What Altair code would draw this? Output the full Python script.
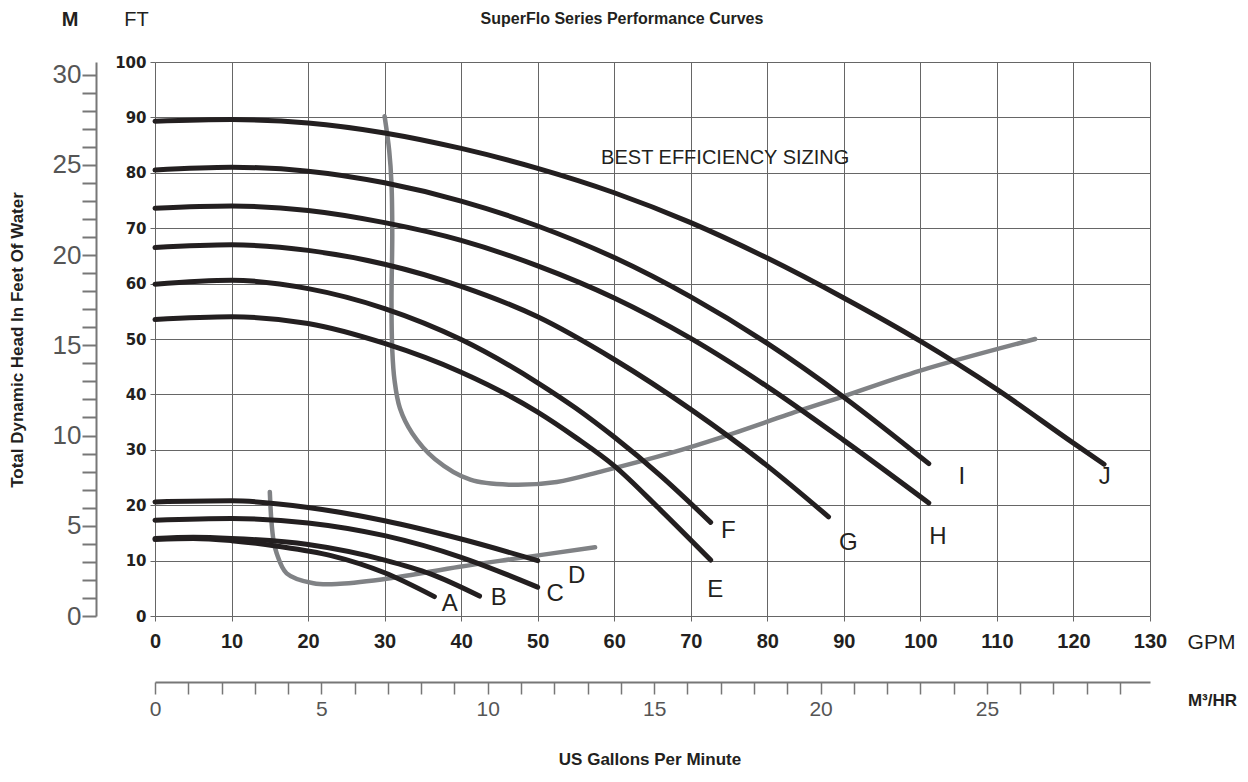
import altair as alt
import pandas as pd

# ---------------- data ----------------
curve_names = ["A", "B", "C", "D", "E", "F", "G", "H", "I", "J"]

gpm_A = [0, 5, 10, 16, 23, 30, 36.5]
ft_A = [13.8, 14.0, 13.6, 12.6, 10.9, 7.8, 3.5]
gpm_B = [0, 5, 10, 20, 30, 36, 42.4]
ft_B = [14.0, 14.2, 14.0, 12.9, 10.1, 7.6, 3.6]
gpm_C = [0, 10, 20, 30, 40, 50]
ft_C = [17.3, 17.6, 16.8, 14.5, 10.6, 5.2]
gpm_D = [0, 10, 20, 30, 40, 50]
ft_D = [20.6, 20.8, 19.6, 17.2, 13.9, 10.0]
gpm_E = [0, 10, 20, 30, 40, 50, 55, 60, 66, 72.6]
ft_E = [53.5, 54.0, 52.8, 49.2, 44.0, 36.8, 32.2, 27.1, 19.2, 10.1]
gpm_F = [0, 10, 20, 30, 40, 50, 55, 60, 66, 72.6]
ft_F = [59.9, 60.6, 59.1, 55.5, 49.9, 42.1, 37.5, 32.3, 25.4, 16.9]
gpm_G = [0, 10, 20, 30, 40, 50, 60, 70, 80, 88]
ft_G = [66.5, 67.0, 66.0, 63.5, 59.5, 54.0, 46.3, 37.3, 27.1, 17.9]
gpm_H = [0, 10, 20, 30, 40, 50, 60, 70, 80, 90, 101.1]
ft_H = [73.6, 74.0, 73.2, 71.0, 67.8, 63.2, 57.4, 50.1, 41.4, 31.7, 20.4]
gpm_I = [0, 10, 20, 30, 40, 50, 60, 70, 80, 90, 101.1]
ft_I = [80.5, 81.0, 80.3, 78.2, 74.9, 70.4, 64.7, 57.6, 49.2, 39.5, 27.5]
gpm_J = [0, 10, 20, 30, 40, 50, 60, 70, 80, 90, 100, 110, 120, 124.0]
ft_J = [89.3, 89.6, 89.0, 87.2, 84.4, 80.8, 76.4, 71.0, 64.6, 57.4, 49.6, 40.9, 31.2, 27.4]

# best efficiency sizing boundaries
bep_big_gpm = [30.0, 30.6, 30.9, 31.0, 30.9, 31.0, 31.3, 32.0, 33.6, 36.6, 41.2, 46.4,
               52.5, 58.6, 67.3, 74.1, 84.3, 89.2, 100.0, 115.0]
bep_big_ft = [90.2, 84.0, 78.0, 69.0, 57.0, 48.0, 42.5, 37.5, 33.0, 28.3, 24.6, 23.7,
              24.2, 26.2, 29.4, 32.3, 37.1, 39.3, 44.3, 50.0]
bep_small_gpm = [15.0, 15.2, 15.5, 15.9, 17.2, 20.7, 24.2, 30.7, 39.8, 47.3, 57.5]
bep_small_ft = [22.4, 17.3, 13.5, 11.3, 7.7, 5.9, 5.8, 6.8, 8.9, 10.4, 12.4]

# curve letter labels
label_gpm = [38.5, 44.9, 52.3, 55.1, 73.2, 74.9, 90.6, 102.3, 105.4, 124.1]
label_ft = [2.1, 3.2, 3.9, 7.2, 4.7, 15.4, 13.2, 14.2, 25.1, 25.1]

gpm_ticks = list(range(0, 131, 10))
ft_ticks = list(range(0, 101, 10))
m_ticks = list(range(0, 31))
m3_ticks = list(range(0, 30))

# ---------------- tables ----------------
series = {
    "A": (gpm_A, ft_A), "B": (gpm_B, ft_B), "C": (gpm_C, ft_C), "D": (gpm_D, ft_D),
    "E": (gpm_E, ft_E), "F": (gpm_F, ft_F), "G": (gpm_G, ft_G), "H": (gpm_H, ft_H),
    "I": (gpm_I, ft_I), "J": (gpm_J, ft_J),
}
rows = []
for name in curve_names:
    g, f = series[name]
    for i, (a, b) in enumerate(zip(g, f)):
        rows.append({"curve": name, "i": i, "gpm": a, "ft": b})
curves_df = pd.DataFrame(rows)

bep_rows = []
for i, (a, b) in enumerate(zip(bep_big_gpm, bep_big_ft)):
    bep_rows.append({"zone": "big", "i": i, "gpm": a, "ft": b})
for i, (a, b) in enumerate(zip(bep_small_gpm, bep_small_ft)):
    bep_rows.append({"zone": "small", "i": i, "gpm": a, "ft": b})
bep_df = pd.DataFrame(bep_rows)

labels_df = pd.DataFrame({"name": curve_names, "gpm": label_gpm, "ft": label_ft})

BOLD_NARROW = "Liberation Sans Narrow, Liberation Sans, Arial, sans-serif"
SANS = "Liberation Sans, Arial, sans-serif"
INK = "#231f20"
GRID = "#666666"

x_scale = alt.Scale(domain=[0, 130], nice=False, zero=True)
y_scale = alt.Scale(domain=[0, 100], nice=False, zero=True)

gpm_axis = alt.Axis(
    values=gpm_ticks, grid=True, gridColor=GRID, gridWidth=1, domain=False,
    ticks=True, tickSize=5, tickColor=GRID, labelFlush=False,
    labelFont=BOLD_NARROW, labelFontSize=20, labelFontWeight="bold", labelColor=INK,
    labelPadding=10, title="GPM", titleFont=SANS, titleFontSize=21,
    titleFontWeight="normal", titleColor=INK, titleX=1056, titleY=26,
    titleAlign="center", titleBaseline="middle",
)
ft_axis = alt.Axis(
    values=ft_ticks, grid=True, gridColor=GRID, gridWidth=1, domain=False,
    ticks=True, tickSize=5, tickColor=GRID,
    labelFont="DejaVu Sans, sans-serif", labelFontSize=15, labelFontWeight="bold",
    labelColor=INK, labelPadding=4, title="FT", titleFont=SANS, titleFontSize=20,
    titleFontWeight="normal", titleColor=INK, titleAngle=0, titleX=-19, titleY=-43,
    titleAlign="center", titleBaseline="middle",
)

bep = alt.Chart(bep_df).mark_line(
    color="#808285", strokeWidth=4.5, strokeCap="round", strokeJoin="round",
    interpolate="catmull-rom"
).encode(
    x=alt.X("gpm:Q", scale=x_scale, axis=gpm_axis),
    y=alt.Y("ft:Q", scale=y_scale, axis=ft_axis),
    detail="zone:N",
    order="i:Q",
)

pumps = alt.Chart(curves_df).mark_line(
    color=INK, strokeWidth=5, strokeCap="round", strokeJoin="round",
    interpolate="monotone"
).encode(
    x=alt.X("gpm:Q", scale=x_scale),
    y=alt.Y("ft:Q", scale=y_scale),
    detail="curve:N",
    order="i:Q",
)

letters = alt.Chart(labels_df).mark_text(
    font=SANS, fontSize=24, color=INK, align="center", baseline="middle"
).encode(
    x=alt.X("gpm:Q", scale=x_scale),
    y=alt.Y("ft:Q", scale=y_scale),
    text="name:N",
)

bes_df = pd.DataFrame({"t": ["BEST EFFICIENCY SIZING"], "gpm": [74.5], "ft": [82.7]})
bes = alt.Chart(bes_df).mark_text(
    font=SANS, fontSize=20, color=INK, align="center", baseline="middle"
).encode(
    x=alt.X("gpm:Q", scale=x_scale),
    y=alt.Y("ft:Q", scale=y_scale),
    text="t:N",
)

def note(text, x, y, size, weight="bold", angle=0, font=SANS):
    return alt.Chart(pd.DataFrame({"t": [text]})).mark_text(
        font=font, fontSize=size, fontWeight=weight, color=INK,
        align="center", baseline="middle", angle=angle,
    ).encode(text="t:N", x=alt.value(x), y=alt.value(y))

title_top = note("SuperFlo Series Performance Curves", 467, -43, 16)
m_title = note("M", -85, -42, 20)
y_title = note("Total Dynamic Head In Feet Of Water", -137, 278, 17, angle=270)
x_title = note("US Gallons Per Minute", 495, 698, 17)

inner = alt.layer(bep, pumps, letters, bes, title_top, m_title, y_title, x_title)

m_df = pd.DataFrame({"m": m_ticks})
m_layer = alt.Chart(m_df).mark_point(opacity=0).encode(
    y=alt.Y(
        "m:Q",
        scale=alt.Scale(domain=[0, 30.7], nice=False, zero=True),
        axis=alt.Axis(
            orient="left", offset=59, values=m_ticks,
            labelExpr="datum.value % 5 === 0 ? datum.label : ''",
            grid=False, domain=True, domainColor="#777777", domainWidth=2,
            ticks=True, tickSize=14, tickColor="#777777", tickWidth=2,
            labelFont=BOLD_NARROW, labelFontSize=26, labelColor="#555555",
            labelPadding=1, labelFontWeight="normal", title=None,
        ),
    )
)

m3_df = pd.DataFrame({"q": m3_ticks})
m3_layer = alt.Chart(m3_df).mark_point(opacity=0).encode(
    x=alt.X(
        "q:Q",
        scale=alt.Scale(domain=[0, 29.9], nice=False, zero=True),
        axis=alt.Axis(
            orient="bottom", offset=66, values=m3_ticks,
            labelExpr="datum.value % 5 === 0 ? datum.label : ''",
            grid=False, domain=True, domainColor="#777777", domainWidth=2,
            ticks=True, tickSize=12, tickColor="#777777", tickWidth=1.5,
            labelFont=SANS, labelFontSize=21, labelColor="#555555", labelFlush=False,
            labelPadding=4, title="M³/HR", titleFont=SANS, titleFontSize=17,
            titleFontWeight="bold", titleColor=INK, titleX=1057, titleY=18,
            titleAlign="center", titleBaseline="middle",
        ),
    )
)

chart = alt.layer(inner, m_layer, m3_layer).resolve_scale(
    x="independent", y="independent"
).properties(
    width=995, height=554,
    autosize=alt.AutoSizeParams(type="none"),
    padding={"left": 147, "top": 54, "right": 88, "bottom": 152},
).configure_view(stroke=None).configure(background="white")

chart.save("out.html", embed_options={"renderer": "svg", "actions": False})
